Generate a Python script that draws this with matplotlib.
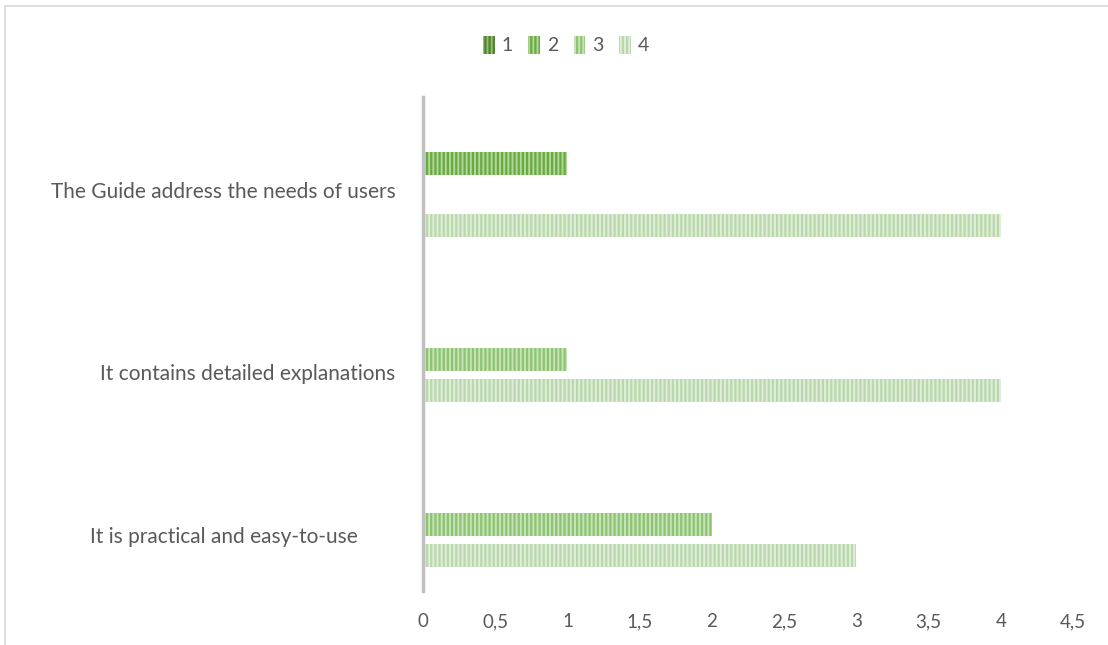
import numpy as np
import matplotlib
matplotlib.use('Agg')
import matplotlib.pyplot as plt
import matplotlib.transforms as mtransforms
from matplotlib.ticker import FuncFormatter
from matplotlib.lines import Line2D

plt.rcParams['font.family'] = ['Lato', 'DejaVu Sans']
plt.rcParams['hatch.linewidth'] = 1.6

# categories bottom -> top
categories = ["It is practical and easy-to-use ", "It contains detailed explanations", "The Guide address the needs of users"]
series_names = ["1", "2", "3", "4"]
s1 = [0, 0, 0]
s2 = [0, 0, 1]
s3 = [2, 1, 0]
s4 = [3, 4, 4]
values = [s1, s2, s3, s4]

# stripe colour / background colour per series
stripe_cols = ["#4f822f", "#68ab41", "#8cc46f", "#b9d8ac"]
back_cols = ["#93bf77", "#b3d69d", "#c8e3bb", "#e0eed9"]

fig = plt.figure(figsize=(11.08, 6.45), dpi=100)
ax = fig.add_axes([0.3818, 0.0837, 0.5866, 0.7659])

pos = np.arange(len(categories))
step = 0.188
height = 0.14
for i in range(0, 4):
    off = (1.5 - i) * step
    ax.barh(pos + off, values[i], height=height, color=back_cols[i],
            edgecolor=stripe_cols[i], hatch='||||', linewidth=0)

ax.set_xlim(0, 4.5)
ax.set_ylim(-0.5, 2.5)
ax.set_xticks(np.arange(0, 4.51, 0.5))
ax.xaxis.set_major_formatter(FuncFormatter(lambda v, p: ('%g' % v).replace('.', ',')))
label_shift = [0.16, 0.17, 0.065]
ax.set_yticks(pos - np.array(label_shift))
ax.set_yticklabels(categories)

for s in ['top', 'right', 'bottom']:
    ax.spines[s].set_visible(False)
ax.spines['left'].set_color('#bfbfbf')
ax.spines['left'].set_linewidth(2.5)
ax.tick_params(axis='both', length=0, labelcolor='#595959')
ax.tick_params(axis='x', pad=16, labelsize=13.5)
ax.tick_params(axis='y', pad=20, labelsize=15)

# bottom label sits further left in the original
lbl = ax.get_yticklabels()[0]
lbl.set_transform(lbl.get_transform() + mtransforms.ScaledTranslation(-32/100, 0, fig.dpi_scale_trans))

handles = [plt.Rectangle((0, 0), 1, 1, facecolor=back_cols[i], edgecolor=stripe_cols[i],
                         hatch='||||', linewidth=0) for i in range(4)]
fig.legend(handles, series_names, loc='center', bbox_to_anchor=(566/1108, 1 - 45/645),
           ncol=4, frameon=False, fontsize=14, labelcolor='#595959',
           handlelength=0.6, handleheight=1.1, handletextpad=0.35, columnspacing=0.8)

# chart border (cropped on right and bottom)
fig.add_artist(Line2D([5/1108, 1], [1 - 6/645, 1 - 6/645], color='#d9d9d9', lw=1.2))
fig.add_artist(Line2D([5/1108, 5/1108], [0, 1 - 6/645], color='#d9d9d9', lw=1.2))

fig.savefig('out.png', dpi=100)
